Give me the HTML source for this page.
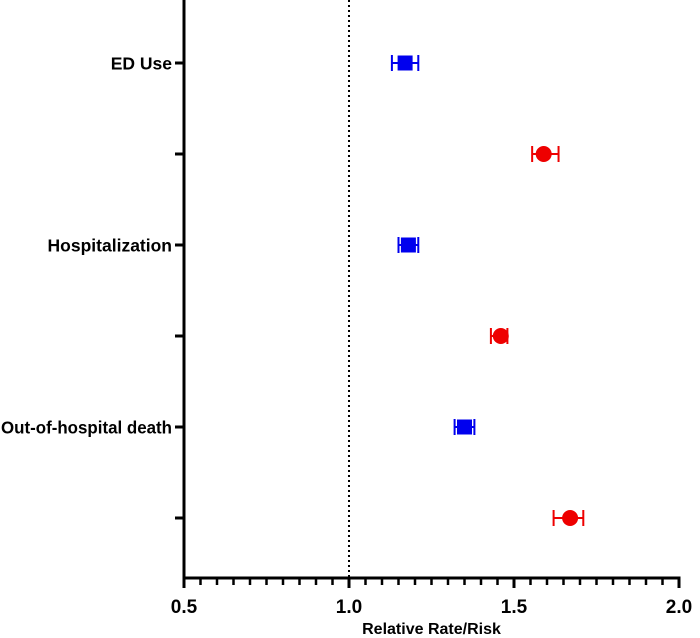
<!DOCTYPE html>
<html><head><meta charset="utf-8"><style>
html,body{margin:0;padding:0;background:#fff;width:700px;height:638px;overflow:hidden}
svg text{font-family:"Liberation Sans",Arial,sans-serif;font-weight:bold;fill:#000}
</style></head><body>
<svg id="chart" width="700" height="638" xmlns="http://www.w3.org/2000/svg"></svg>
<script>
const rowLabels = ["ED Use", "", "Hospitalization", "", "Out-of-hospital death", ""];
const seriesKind = ["blue", "red", "blue", "red", "blue", "red"];
const estimates = [1.17, 1.59, 1.18, 1.46, 1.35, 1.67];
const lowerCI = [1.13, 1.555, 1.15, 1.43, 1.32, 1.62];
const upperCI = [1.21, 1.635, 1.21, 1.48, 1.38, 1.71];
const xTicks = [0.5, 1.0, 1.5, 2.0];
const xTickLabels = ["0.5", "1.0", "1.5", "2.0"];
const refValue = 1.0;

const NS = "http://www.w3.org/2000/svg";
const svg = document.getElementById('chart');
const x = v => 184 + (v - 0.5) * 330;
const y = i => 63 + i * 91;
const AX_Y = 578;
function mk(tag, attrs, parent) {
  const e = document.createElementNS(NS, tag);
  for (const k in attrs) e.setAttribute(k, attrs[k]);
  (parent || svg).appendChild(e);
  return e;
}
let ref = mk('line', {x1: x(refValue), x2: x(refValue), y1: 0, y2: AX_Y, stroke: '#000', 'stroke-width': 2, 'stroke-dasharray': '2,3'});


let ya = mk('line', {x1: 184, x2: 184, y1: 0, y2: AX_Y + 1.5, stroke: '#000', 'stroke-width': 3});


let xa = mk('line', {x1: 182.5, x2: x(2.0) + 1.5, y1: AX_Y, y2: AX_Y, stroke: '#000', 'stroke-width': 3});


for (let k = 0; k <= 30; k++) {
  const v = 0.5 + k * 0.05;
  const major = k % 10 === 0;
  let t = mk('line', {x1: x(v), x2: x(v), y1: AX_Y, y2: AX_Y + (major ? 10 : 7), stroke: '#000', 'stroke-width': major ? 3 : 2.5});
  
  
}
xTicks.forEach((v, i) => {
  let t = mk('text', {x: x(v), y: 613, 'text-anchor': 'middle', 'font-size': 19});
  t.textContent = xTickLabels[i];
  
  
});
let xt = mk('text', {x: x(1.25), y: 634, 'text-anchor': 'middle', 'font-size': 16});
xt.textContent = "Relative Rate/Risk";


rowLabels.forEach((lab, i) => {
  let t = mk('line', {x1: 175, x2: 184, y1: y(i), y2: y(i), stroke: '#000', 'stroke-width': 3});
  
  
  if (lab) {
    let tx = mk('text', {x: 172, y: y(i) + 6.5, 'text-anchor': 'end', 'font-size': 17.5});
    tx.textContent = lab;
    
    
    if (tx.getComputedTextLength() > 171) {
      tx.setAttribute('textLength', 171);
      tx.setAttribute('lengthAdjust', 'spacingAndGlyphs');
    }
  }
  const col = seriesKind[i] === 'blue' ? '#0000ee' : '#ee0000';
  const g = mk('g', {});
  
  
  const yc = y(i);
  mk('line', {x1: x(lowerCI[i]), x2: x(upperCI[i]), y1: yc, y2: yc, stroke: col, 'stroke-width': 2}, g);
  mk('line', {x1: x(lowerCI[i]), x2: x(lowerCI[i]), y1: yc - 8, y2: yc + 8, stroke: col, 'stroke-width': 2}, g);
  mk('line', {x1: x(upperCI[i]), x2: x(upperCI[i]), y1: yc - 8, y2: yc + 8, stroke: col, 'stroke-width': 2}, g);
  if (seriesKind[i] === 'blue') {
    mk('rect', {x: x(estimates[i]) - 7.5, y: yc - 7.5, width: 15, height: 15, fill: col}, g);
  } else {
    mk('circle', {cx: x(estimates[i]), cy: yc, r: 8, fill: col}, g);
  }
});
</script>
</body></html>
